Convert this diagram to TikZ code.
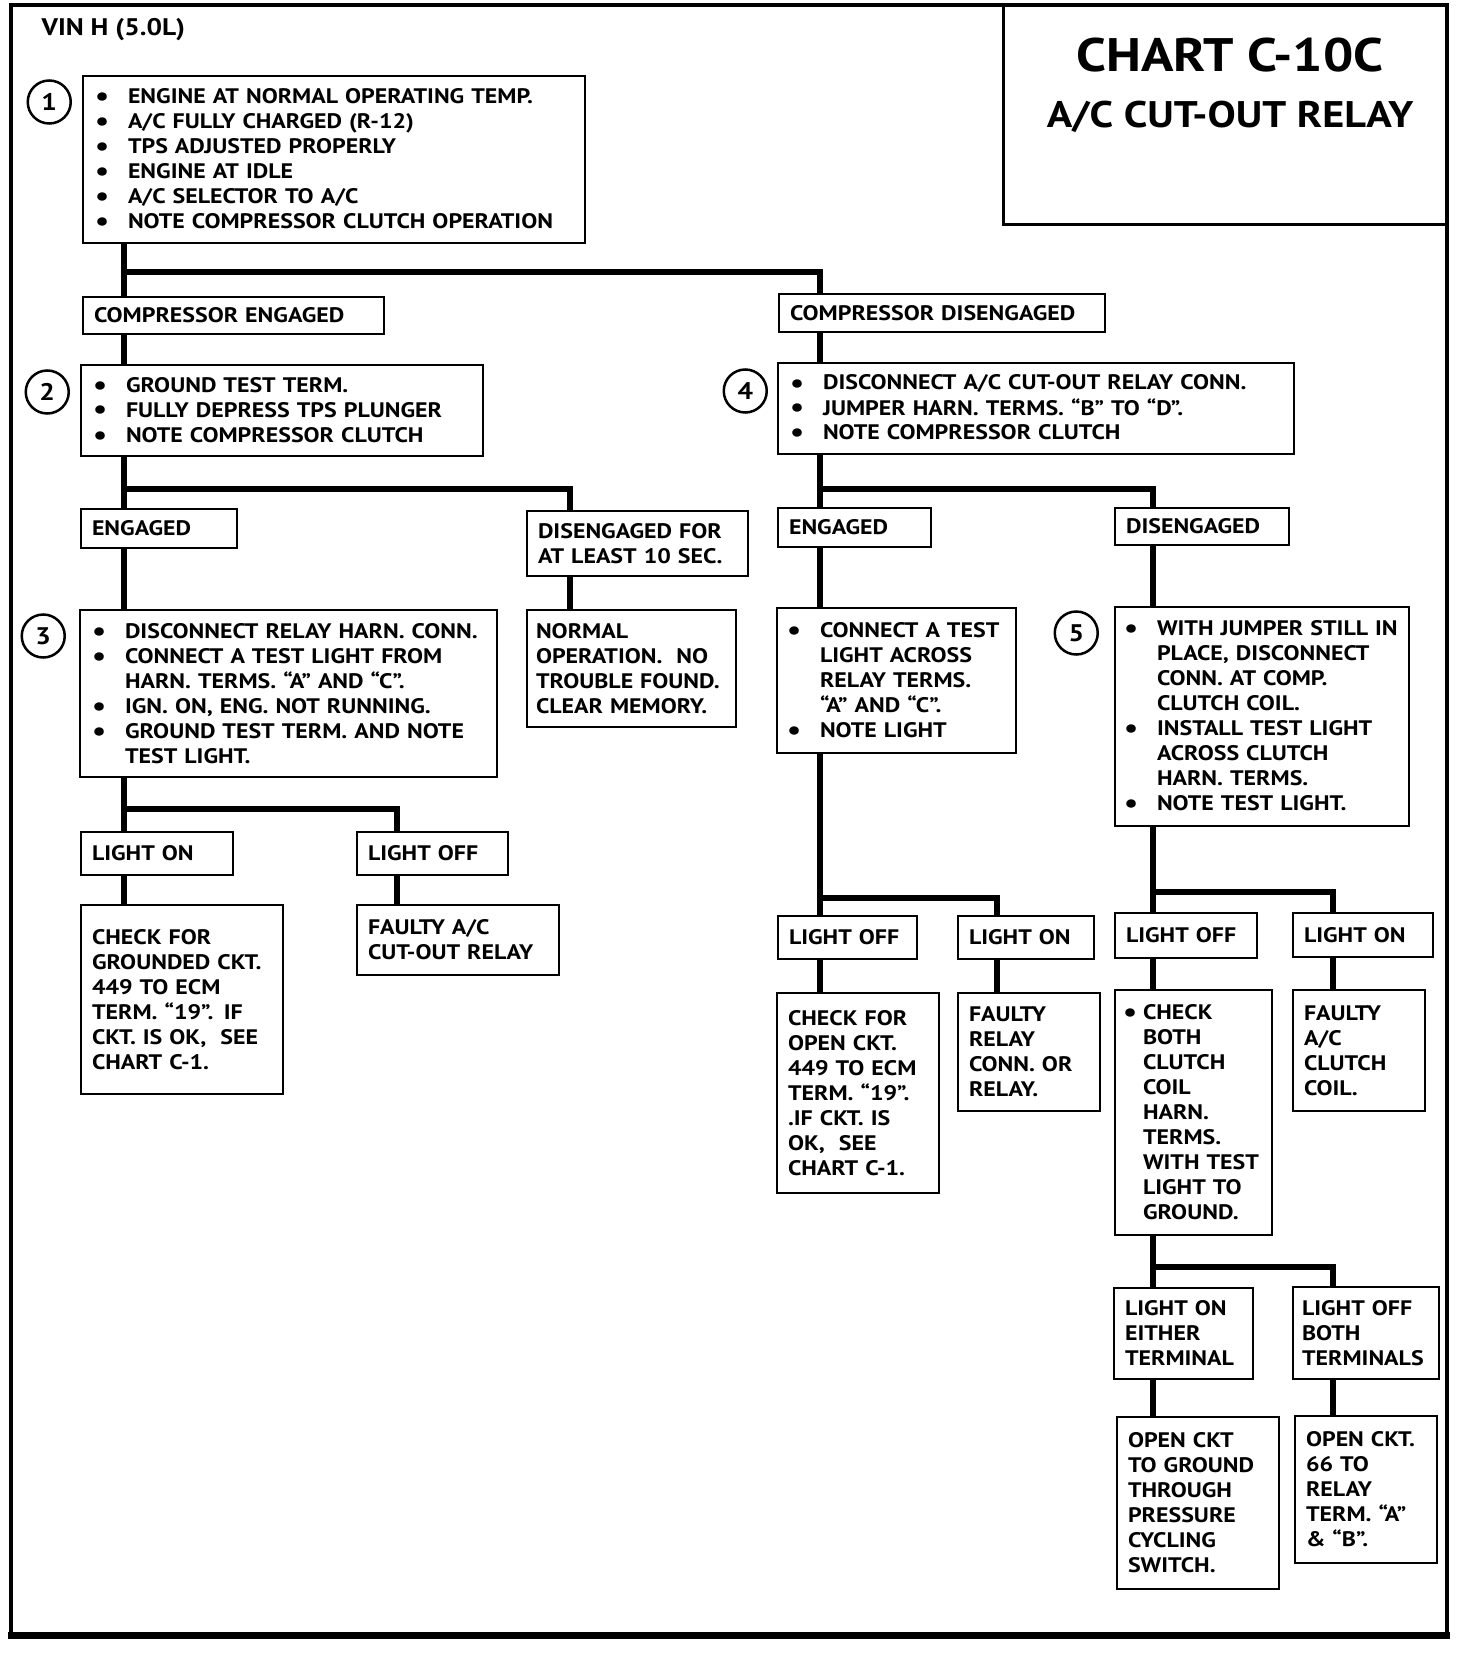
\documentclass[tikz,border=0pt]{standalone}
\usepackage{fontspec}
\setmainfont{PT Sans}[FakeStretch=1.14]
\usepackage{tikz}
\usetikzlibrary{positioning}
\newcommand\bul{\makebox[34pt][l]{\hspace{1pt}\raisebox{-2pt}{\scalebox{1.3}{\textbullet}}}}
\newcommand\hang{\hspace*{34pt}}

\begin{document}
\begin{tikzpicture}[x=1pt,y=-1pt,font=\fontsize{21}{25}\selectfont\bfseries,
  box/.style={draw,line width=2.5pt,anchor=north west,inner xsep=11pt,inner ysep=0pt,outer sep=0pt,align=left},
  num/.style={circle,draw,line width=2.5pt,minimum size=43pt,inner sep=0pt,font=\fontsize{24}{24}\selectfont\bfseries},
  wire/.style={line width=6pt},
  rim/.style={line width=4pt}]
  \useasboundingbox (0,0) rectangle (1472,1656);
  \draw[rim] (11,5) rectangle (1447,1635);
  \draw[line width=7pt] (8,1635) -- (1450,1635);
  \draw[line width=3pt] (1003,5) |- (1447,224);
  \node[font=\fontsize{47}{52}\selectfont\bfseries] (ttl) at (1230,55) {CHART C-10C};
  \node[font=\fontsize{37}{42}\selectfont\bfseries] (sub) at (1230,117) {A/C CUT-OUT RELAY};
  \node[anchor=west,font=\fontsize{24}{25}\selectfont\bfseries] (vin) at (38,30) {VIN H (5.0L)};

  % left column
  \node[box,text width=480pt,minimum height=167pt] (b1) at (83,76)
    {\bul ENGINE AT NORMAL OPERATING TEMP.\\ \bul A/C FULLY CHARGED (R-12)\\ \bul TPS ADJUSTED PROPERLY\\
     \bul ENGINE AT IDLE\\ \bul A/C SELECTOR TO A/C\\ \bul NOTE COMPRESSOR CLUTCH OPERATION};
  \node[num,left=11pt of b1.north west,yshift=-26pt] (n1) {1};
  \node[box,text width=279pt,minimum height=37pt] (ce) at (83,297) {COMPRESSOR ENGAGED};
  \node[box,text width=380pt,minimum height=91pt] (b2) at (81,365)
    {\bul GROUND TEST TERM.\\ \bul FULLY DEPRESS TPS PLUNGER\\ \bul NOTE COMPRESSOR CLUTCH};
  \node[num,left=11pt of b2.north west,yshift=-27pt] (n2) {2};
  \node[box,text width=134pt,minimum height=39pt] (eL) at (81,509) {ENGAGED};
  \node[box,text width=199pt,minimum height=65pt] (dF) at (527,511) {DISENGAGED FOR\\ AT LEAST 10 SEC.};
  \node[box,text width=395pt,minimum height=167pt] (b3) at (80,610)
    {\bul DISCONNECT RELAY HARN.~CONN.\\ \bul CONNECT A TEST LIGHT FROM\\ \hang HARN. TERMS. “A” AND “C”.\\
     \bul IGN. ON, ENG. NOT RUNNING.\\ \bul GROUND TEST TERM. AND NOTE\\ \hang TEST LIGHT.};
  \node[num,left=14pt of b3.north west,yshift=-26pt] (n3) {3};
  \node[box,inner xsep=9pt,text width=191pt,minimum height=117pt] (nrm) at (527,610)
    {NORMAL\\ OPERATION.~ NO\\ TROUBLE~FOUND.\\ CLEAR MEMORY.};
  \node[box,text width=130pt,minimum height=43pt] (lonA) at (81,832) {LIGHT ON};
  \node[box,text width=129pt,minimum height=43pt] (loffA) at (357,832) {LIGHT OFF};
  \node[box,text width=180pt,minimum height=189pt] (chkG) at (81,905)
    {CHECK FOR\\ GROUNDED CKT.\\ 449 TO ECM\\ TERM. “19”. IF\\ CKT. IS OK,~ SEE\\ CHART C-1.};
  \node[box,text width=180pt,minimum height=70pt] (fRel) at (357,905) {FAULTY A/C\\ CUT-OUT RELAY};

  % right column
  \node[box,text width=304pt,minimum height=38pt] (cd) at (779,294) {COMPRESSOR DISENGAGED};
  \node[box,text width=494pt,minimum height=91pt] (b4) at (778,363)
    {\bul DISCONNECT A/C CUT-OUT RELAY CONN.\\ \bul JUMPER HARN. TERMS. “B” TO “D”.\\ \bul NOTE COMPRESSOR CLUTCH};
  \node[num,left=10pt of b4.north west,yshift=-28pt] (n4) {4};
  \node[box,text width=131pt,minimum height=39pt] (eR) at (778,508) {ENGAGED};
  \node[box,text width=152pt,minimum height=37pt] (dR) at (1115,508) {DISENGAGED};
  \node[box,inner xsep=9pt,text width=221pt,minimum height=145pt] (ct) at (777,608)
    {\bul CONNECT A~TEST\\ \hang LIGHT ACROSS\\ \hang RELAY TERMS.\\ \hang “A” AND “C”.\\ \bul NOTE LIGHT};
  \node[box,inner xsep=8pt,text width=278pt,minimum height=219pt] (b5) at (1115,607)
    {\bul WITH JUMPER STILL~IN\\ \hang PLACE, DISCONNECT\\ \hang CONN. AT COMP.\\ \hang CLUTCH COIL.\\
     \bul INSTALL TEST LIGHT\\ \hang ACROSS CLUTCH\\ \hang HARN. TERMS.\\ \bul NOTE TEST LIGHT.};
  \node[num,left=16pt of b5.north west,yshift=-26pt] (n5) {5};
  \node[box,text width=117pt,minimum height=43pt] (loffB) at (778,916) {LIGHT OFF};
  \node[box,text width=114pt,minimum height=43pt] (lonB) at (958,916) {LIGHT ON};
  \node[box,text width=140pt,minimum height=200pt] (chkO) at (777,993)
    {CHECK FOR\\ OPEN CKT.\\ 449 TO ECM\\ TERM. “19”.\\ .IF CKT. IS\\ OK,~ SEE\\ CHART C-1.};
  \node[box,text width=120pt,minimum height=118pt] (fRC) at (958,993) {FAULTY\\ RELAY\\ CONN. OR\\ RELAY.};
  \node[box,text width=120pt,minimum height=45pt] (loffC) at (1115,913) {LIGHT OFF};
  \node[box,text width=118pt,minimum height=44pt] (lonC) at (1293,913) {LIGHT ON};
  \node[box,inner xsep=8pt,text width=141pt,minimum height=245pt] (chkB) at (1115,990)
    {\makebox[20pt][l]{\raisebox{-2pt}{\scalebox{1.3}{\textbullet}}}CHECK\\ \hspace*{20pt}BOTH\\ \hspace*{20pt}CLUTCH\\
     \hspace*{20pt}COIL\\ \hspace*{20pt}HARN.\\ \hspace*{20pt}TERMS.\\ \hspace*{20pt}WITH~TEST\\ \hspace*{20pt}LIGHT~TO\\ \hspace*{20pt}GROUND.};
  \node[box,text width=110pt,minimum height=121pt] (fCC) at (1293,990) {FAULTY\\ A/C\\ CLUTCH\\ COIL.};
  \node[box,text width=117pt,minimum height=91pt] (lonE) at (1114,1288) {LIGHT ON\\ EITHER\\ TERMINAL};
  \node[box,inner xsep=9pt,text width=128pt,minimum height=92pt] (loffE) at (1293,1287) {LIGHT OFF\\ BOTH\\ TERMINALS};
  \node[box,text width=140pt,minimum height=172pt] (opG) at (1117,1417)
    {OPEN CKT\\ TO GROUND\\ THROUGH\\ PRESSURE\\ CYCLING\\ SWITCH.};
  \node[box,text width=120pt,minimum height=147pt] (op66) at (1295,1416)
    {OPEN CKT.\\ 66 TO\\ RELAY\\ TERM. “A”\\ \& “B”.};

  % connectors
  \coordinate (xL) at (124,0); \coordinate (xA) at (397,0); \coordinate (xF) at (570,0);
  \coordinate (xR) at (820,0); \coordinate (xB) at (997,0); \coordinate (xS) at (1153,0); \coordinate (xC) at (1333,0);
  \coordinate (j1) at (124,272); \coordinate (j2) at (124,489); \coordinate (j3) at (124,809);
  \coordinate (j4) at (820,489); \coordinate (j5) at (820,898); \coordinate (j6) at (1153,892); \coordinate (j7) at (1153,1267);
  \draw[wire] (b1.south -| xL) -- (ce.north -| xL);
  \draw[wire] (j1) -| (cd.north -| xR);
  \draw[wire] (ce.south -| xL) -- (b2.north -| xL);
  \draw[wire] (b2.south -| xL) -- (eL.north -| xL);
  \draw[wire] (j2) -| (dF.north -| xF);
  \draw[wire] (dF.south -| xF) -- (nrm.north -| xF);
  \draw[wire] (eL.south -| xL) -- (b3.north -| xL);
  \draw[wire] (b3.south -| xL) -- (lonA.north -| xL);
  \draw[wire] (j3) -| (loffA.north -| xA);
  \draw[wire] (lonA.south -| xL) -- (chkG.north -| xL);
  \draw[wire] (loffA.south -| xA) -- (fRel.north -| xA);
  \draw[wire] (cd.south -| xR) -- (b4.north -| xR);
  \draw[wire] (b4.south -| xR) -- (eR.north -| xR);
  \draw[wire] (j4) -| (dR.north -| xS);
  \draw[wire] (eR.south -| xR) -- (ct.north -| xR);
  \draw[wire] (dR.south -| xS) -- (b5.north -| xS);
  \draw[wire] (ct.south -| xR) -- (loffB.north -| xR);
  \draw[wire] (j5) -| (lonB.north -| xB);
  \draw[wire] (loffB.south -| xR) -- (chkO.north -| xR);
  \draw[wire] (lonB.south -| xB) -- (fRC.north -| xB);
  \draw[wire] (b5.south -| xS) -- (loffC.north -| xS);
  \draw[wire] (j6) -| (lonC.north -| xC);
  \draw[wire] (loffC.south -| xS) -- (chkB.north -| xS);
  \draw[wire] (lonC.south -| xC) -- (fCC.north -| xC);
  \draw[wire] (chkB.south -| xS) -- (lonE.north -| xS);
  \draw[wire] (j7) -| (loffE.north -| xC);
  \draw[wire] (lonE.south -| xS) -- (opG.north -| xS);
  \draw[wire] (loffE.south -| xC) -- (op66.north -| xC);
\end{tikzpicture}
\end{document}
